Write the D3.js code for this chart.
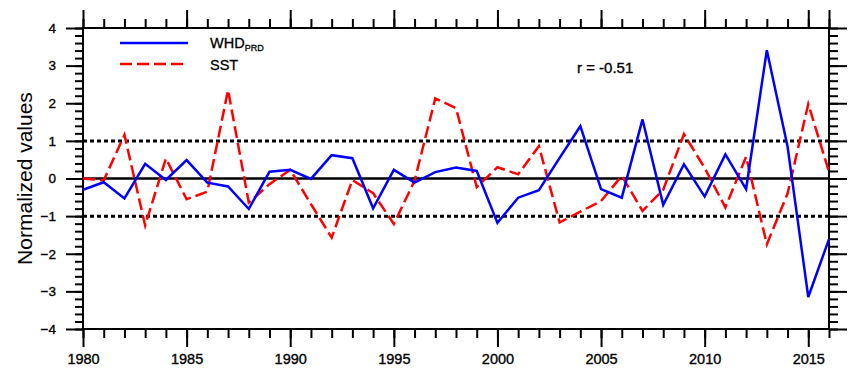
<!DOCTYPE html>
<html>
<head>
<meta charset="utf-8">
<script src="https://cdn.jsdelivr.net/npm/d3@7"></script>
<style>
  body { margin: 0; background: #fff; }
  text { font-family: "Liberation Sans", Arial, Helvetica, sans-serif; fill: #000; }
</style>
</head>
<body>
<script>
// years 1980..2016
var years = d3.range(1980, 2017);
var whd = [-0.30, -0.10, -0.53, 0.39, -0.04, 0.49, -0.11, -0.21, -0.81, 0.18,
           0.23, -0.01, 0.62, 0.54, -0.79, 0.23, -0.11, 0.17, 0.29, 0.20,
           -1.18, -0.51, -0.31, 0.55, 1.39, -0.28, -0.51, 1.57, -0.70, 0.38,
           -0.48, 0.64, -0.28, 3.41, 0.85, -3.15, -1.61];
var sst = [0.00, -0.05, 1.16, -1.25, 0.53, -0.55, -0.35, 2.35, -0.64, -0.15,
           0.23, -0.68, -1.57, -0.04, -0.39, -1.21, -0.06, 2.13, 1.87, -0.23,
           0.30, 0.11, 0.86, -1.17, -0.88, -0.60, 0.07, -0.86, -0.30, 1.18,
           0.28, -0.77, 0.58, -1.75, -0.40, 1.98, 0.18];
var yTicks = [-4, -3, -2, -1, 0, 1, 2, 3, 4];
var xTicks = [1980, 1985, 1990, 1995, 2000, 2005, 2010, 2015];
var refLines = [-1, 1];

var W = 850, H = 368;
var L = 83, R = 829, T = 28, B = 329;

var svg = d3.select("body").append("svg")
    .attr("width", W).attr("height", H);

var x = d3.scaleLinear().domain([1980, 2016]).range([L, R]);
var y = d3.scaleLinear().domain([-4, 4]).range([B, T]);

/* axes: ticks point outward on all four sides */
function styleAxis(g) {
  g.select(".domain").remove();
  g.selectAll("line").attr("stroke", "#000").attr("stroke-width", 2);
  g.selectAll("text").attr("font-size", 14.5)
    .attr("stroke", "#000").attr("stroke-width", 0.35);
}
var minorYears = years;
var minorY = d3.range(-4, 4.001, 0.2).map(function(v) { return +v.toFixed(1); });

svg.append("g").attr("transform", "translate(0," + B + ")")
  .call(d3.axisBottom(x).tickValues(minorYears).tickSize(9).tickFormat(""))
  .call(styleAxis);
svg.append("g").attr("transform", "translate(0," + B + ")")
  .call(d3.axisBottom(x).tickValues(xTicks).tickSize(18).tickPadding(7).tickFormat(d3.format("d")))
  .call(styleAxis);
svg.append("g").attr("transform", "translate(0," + T + ")")
  .call(d3.axisTop(x).tickValues(minorYears).tickSize(9).tickFormat(""))
  .call(styleAxis);
svg.append("g").attr("transform", "translate(0," + T + ")")
  .call(d3.axisTop(x).tickValues(xTicks.concat([2016])).tickSize(18).tickFormat(""))
  .call(styleAxis);

svg.append("g").attr("transform", "translate(" + L + ",0)")
  .call(d3.axisLeft(y).tickValues(minorY).tickSize(8).tickFormat(""))
  .call(styleAxis);
svg.append("g").attr("transform", "translate(" + L + ",0)")
  .call(d3.axisLeft(y).tickValues(yTicks).tickSize(17).tickPadding(10).tickFormat(d3.format("d")))
  .call(styleAxis)
  .selectAll("text").attr("font-size", 13.5);
svg.append("g").attr("transform", "translate(" + R + ",0)")
  .call(d3.axisRight(y).tickValues(minorY).tickSize(9).tickFormat(""))
  .call(styleAxis);
svg.append("g").attr("transform", "translate(" + R + ",0)")
  .call(d3.axisRight(y).tickValues(yTicks).tickSize(18).tickFormat(""))
  .call(styleAxis);

// frame
svg.append("rect")
  .attr("x", L).attr("y", T).attr("width", R - L).attr("height", B - T)
  .attr("fill", "none").attr("stroke", "#000").attr("stroke-width", 2);

// reference lines
svg.append("line")
  .attr("x1", L).attr("x2", R).attr("y1", y(0)).attr("y2", y(0))
  .attr("stroke", "#000").attr("stroke-width", 2.5);
svg.selectAll(".ref").data(refLines).enter().append("line")
  .attr("x1", L).attr("x2", R)
  .attr("y1", function(d) { return y(d); }).attr("y2", function(d) { return y(d); })
  .attr("stroke", "#000").attr("stroke-width", 3).attr("stroke-dasharray", "4,3");

var line = d3.line()
  .x(function(d, i) { return x(years[i]); })
  .y(function(d) { return y(d); });

svg.append("path").datum(sst).attr("d", line)
  .attr("fill", "none").attr("stroke", "#ff0000").attr("stroke-width", 2.5)
  .attr("stroke-dasharray", "12,5");
svg.append("path").datum(whd).attr("d", line)
  .attr("fill", "none").attr("stroke", "#0000ff").attr("stroke-width", 2.5);

// legend
svg.append("line").attr("x1", 120).attr("x2", 188).attr("y1", 43).attr("y2", 43)
  .attr("stroke", "#0000ff").attr("stroke-width", 2.5);
svg.append("line").attr("x1", 120).attr("x2", 188).attr("y1", 64).attr("y2", 64)
  .attr("stroke", "#ff0000").attr("stroke-width", 2.5).attr("stroke-dasharray", "12,5");
var t1 = svg.append("text").attr("x", 210).attr("y", 48).attr("font-size", 14.5)
  .attr("stroke", "#000").attr("stroke-width", 0.3);
t1.append("tspan").text("WHD");
t1.append("tspan").attr("font-size", 9).attr("dy", 3).text("PRD");
svg.append("text").attr("x", 210).attr("y", 70).attr("font-size", 14.5)
  .attr("stroke", "#000").attr("stroke-width", 0.3).text("SST");

svg.append("text").attr("x", 577).attr("y", 73).attr("font-size", 15)
  .attr("stroke", "#000").attr("stroke-width", 0.35).text("r = -0.51");

// y title
svg.append("text")
  .attr("transform", "translate(32," + y(0) + ") rotate(-90)")
  .attr("text-anchor", "middle")
  .attr("font-size", 21)
  .text("Normalized values");
</script>
</body>
</html>
